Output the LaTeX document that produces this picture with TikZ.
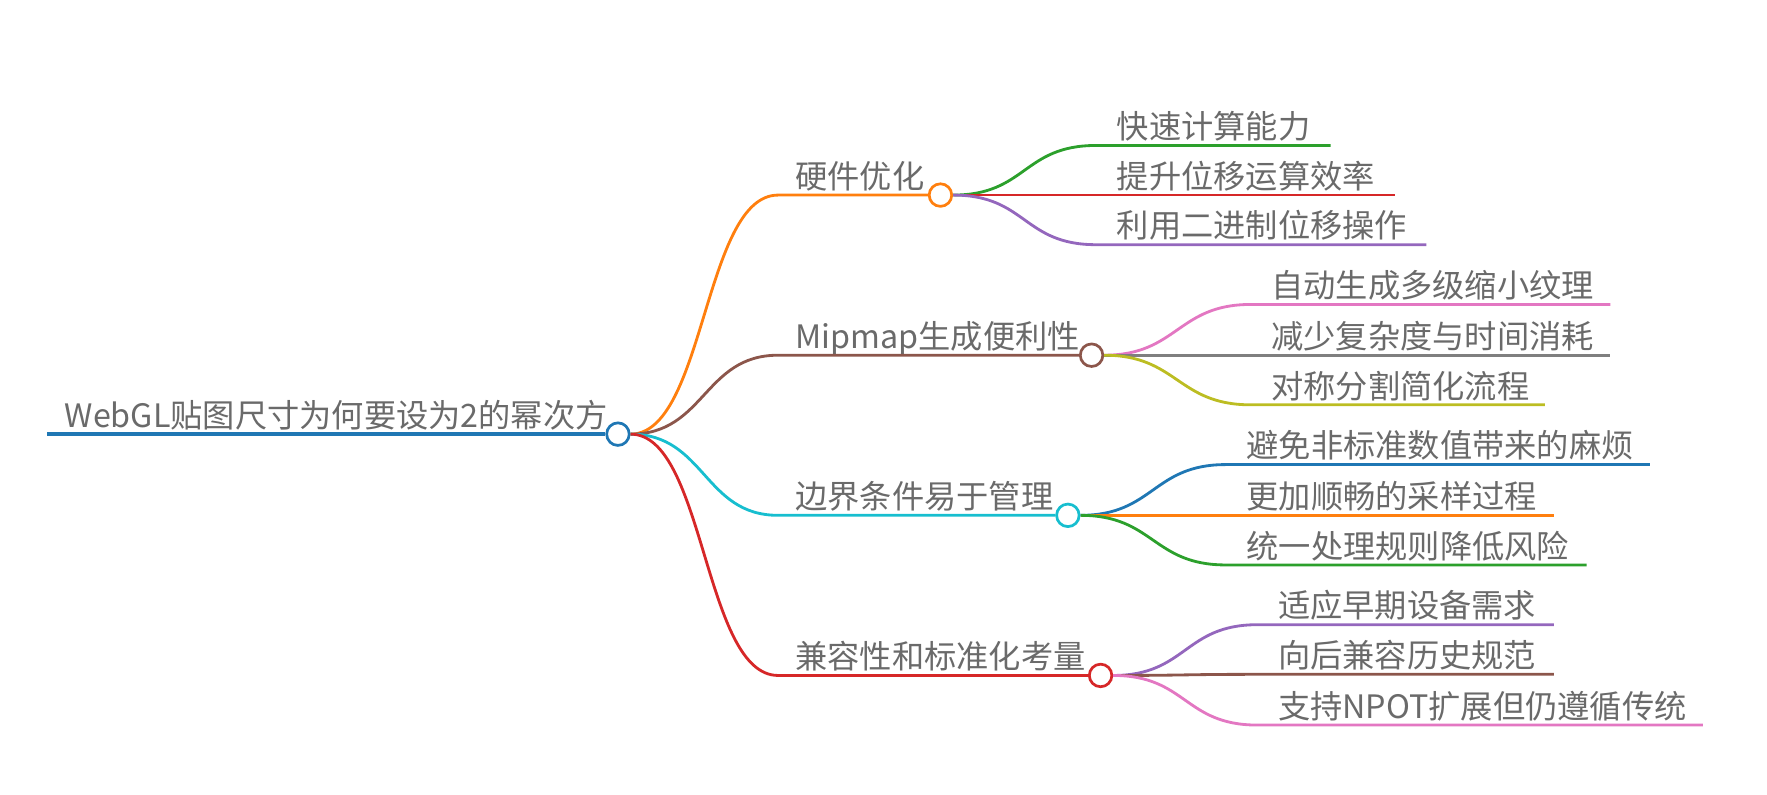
\documentclass[tikz,border=0pt]{standalone}
\usepackage{fontspec}
\newfontfamily\cjk{Noto Sans CJK SC}

\definecolor{cblue}{HTML}{1F77B4}
\definecolor{corange}{HTML}{FF7F0E}
\definecolor{cgreen}{HTML}{2CA02C}
\definecolor{cred}{HTML}{D62728}
\definecolor{cpurple}{HTML}{9467BD}
\definecolor{cbrown}{HTML}{8C564B}
\definecolor{cpink}{HTML}{E377C2}
\definecolor{cgray}{HTML}{7F7F7F}
\definecolor{colive}{HTML}{BCBD22}
\definecolor{ccyan}{HTML}{17BECF}
\definecolor{textgray}{HTML}{6A6A6A}

\begin{document}
\begin{tikzpicture}[x=0.5pt, y=-0.5pt,
  topic/.style={font=\cjk\fontsize{14.3}{16}\selectfont, text=textgray, anchor=base west, inner sep=0pt},
  knot/.style={circle, draw, fill=white, line width=1.2pt, minimum size=10pt, inner sep=0pt},
  branch/.style={line width=1.25pt}]

% Canvas
\useasboundingbox (0,0) rectangle (1567,705);

% Root
\coordinate (root-start) at (42,385);
\node[knot, draw=cblue] (root) at (548,385) {};
\node[topic] (root-label) at (57,379) {WebGL贴图尺寸为何要设为2的幂次方};
\draw[branch, cblue, line width=1.5pt] (root-start) -- (root.west);

% Main branches
\foreach \name/\y/\cx/\col/\txt in {hw/173/834/corange/硬件优化,
    mip/315/968/cbrown/Mipmap生成便利性,
    edge/457/947/ccyan/边界条件易于管理,
    compat/599/976/cred/兼容性和标准化考量} {
  \coordinate (\name-in) at (690,\y);
  \node[knot, draw=\col] (\name) at (\cx,\y) {};
  \node[topic] (\name-label) at (705,\y-6) {\txt};
  \draw[branch, \col] (root.east) .. controls +(66,0) and +(-66,0) .. (\name-in) -- (\name.west);
}

% Leaves
\foreach \parent/\x/\i/\y/\len/\col/\txt in {
    hw/990/1/129/1180/cgreen/快速计算能力,
    hw/990/2/173/1237/cred/提升位移运算效率,
    hw/990/3/217/1265/cpurple/利用二进制位移操作,
    mip/1127/1/270/1428/cpink/自动生成多级缩小纹理,
    mip/1127/2/315/1428/cgray/减少复杂度与时间消耗,
    mip/1127/3/359/1370/colive/对称分割简化流程,
    edge/1105/1/412/1463/cblue/避免非标准数值带来的麻烦,
    edge/1105/2/457/1378/corange/更加顺畅的采样过程,
    edge/1105/3/501/1407/cgreen/统一处理规则降低风险,
    compat/1133/1/554/1378/cpurple/适应早期设备需求,
    compat/1133/2/598/1378/cbrown/向后兼容历史规范,
    compat/1133/3/643/1510/cpink/支持NPOT扩展但仍遵循传统} {
  \coordinate (\parent-\i-in) at (\x-18,\y);
  \coordinate (\parent-\i-end) at (\len,\y);
  \node[topic] (\parent-\i) at (\x,\y-6) {\txt};
  \draw[branch, \col] (\parent.east) .. controls +(65,0) and +(-65,0) .. (\parent-\i-in) -- (\parent-\i-end);
}

\end{tikzpicture}
\end{document}
